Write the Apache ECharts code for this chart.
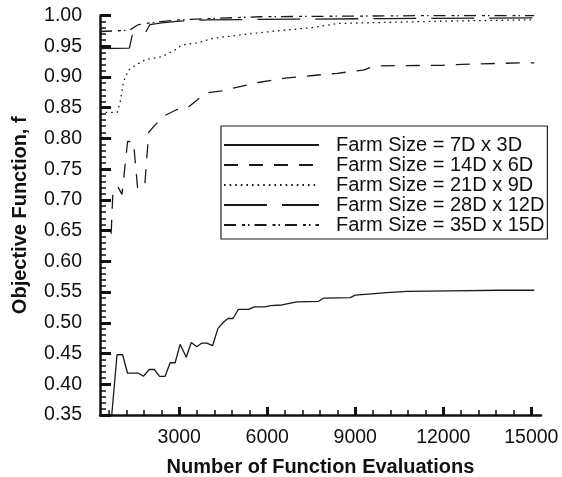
<!DOCTYPE html>
<html><head><meta charset="utf-8">
<script src="https://cdn.jsdelivr.net/npm/echarts@6/dist/echarts.min.js"></script>
<style>html,body{margin:0;padding:0;background:#fff}#c{width:562px;height:477px}</style>
</head><body><div id="c"></div>
<script>
const seriesNames = ['Farm Size = 7D x 3D', 'Farm Size = 14D x 6D', 'Farm Size = 21D x 9D', 'Farm Size = 28D x 12D', 'Farm Size = 35D x 15D'];

const x7 = [700, 880, 1070, 1240, 1610, 1780, 1980, 2150, 2330, 2520, 2690, 2860, 3030, 3240, 3410, 3600, 3770, 3940, 4140, 4320, 4510, 4660, 4830, 5020, 5360, 5560, 5930, 6100, 6500, 7010, 7750, 7910, 8830, 9000, 10080, 10760, 12240, 13940, 15100];
const f7 = [0.35, 0.448, 0.448, 0.418, 0.418, 0.413, 0.424, 0.424, 0.413, 0.413, 0.435, 0.435, 0.465, 0.444, 0.468, 0.461, 0.467, 0.467, 0.463, 0.491, 0.501, 0.507, 0.507, 0.522, 0.522, 0.526, 0.526, 0.528, 0.529, 0.534, 0.535, 0.540, 0.541, 0.545, 0.549, 0.551, 0.552, 0.553, 0.553];

const x14 = [680, 740, 900, 1050, 1240, 1440, 1580, 1820, 1960, 2180, 2460, 2920, 3260, 3600, 3890, 4400, 4840, 5690, 6610, 7470, 8380, 9270, 9680, 12000, 12920, 14730, 15100];
const f14 = [0.645, 0.713, 0.722, 0.709, 0.795, 0.795, 0.72, 0.72, 0.81, 0.822, 0.836, 0.847, 0.849, 0.862, 0.874, 0.877, 0.882, 0.891, 0.898, 0.902, 0.906, 0.911, 0.918, 0.919, 0.921, 0.923, 0.923];

const x21 = [300, 890, 990, 1100, 1270, 1500, 1840, 2410, 2860, 3090, 3550, 4170, 5190, 6330, 7470, 8150, 8380, 10190, 12240, 15100];
const f21 = [0.8425, 0.8425, 0.86, 0.892, 0.911, 0.919, 0.928, 0.933, 0.944, 0.952, 0.955, 0.963, 0.969, 0.975, 0.980, 0.985, 0.987, 0.989, 0.991, 0.993];

const x28 = [300, 1300, 1400, 1800, 2000, 2400, 3000, 4000, 7000, 10000, 15100];
const f28 = [0.946, 0.947, 0.968, 0.968, 0.985, 0.988, 0.991, 0.993, 0.994, 0.995, 0.996];

const x35 = [300, 1300, 1600, 1850, 2350, 3030, 4060, 5760, 8830, 12240, 15100];
const f35 = [0.974, 0.976, 0.985, 0.987, 0.990, 0.993, 0.995, 0.998, 0.999, 1.0, 1.0];

const xMajorTicks = [3000, 6000, 9000, 12000, 15000];
const xMinorTicks = [600, 1200, 1800, 2400, 3600, 4200, 4800, 5400, 6600, 7200, 7800, 8400, 9600, 10200, 10800, 11400, 12600, 13200, 13800, 14400];

const zip = (xs, ys) => xs.map((x, i) => [x, ys[i]]);
const dashes = ['solid', [14, 11], [1.6, 4], [43, 15], [12, 6, 3, 3, 1.5, 5]];
const dataSets = [zip(x7, f7), zip(x14, f14), zip(x21, f21), zip(x28, f28), zip(x35, f35)];

const chart = echarts.init(document.getElementById('c'), null, {renderer: 'canvas'});
const font = 'Liberation Sans, Arial, sans-serif';
chart.setOption({
  animation: false,
  backgroundColor: '#fff',
  textStyle: {fontFamily: font},
  grid: {left: 100, right: 21, top: 15.5, bottom: 62, containLabel: false, outerBoundsMode: 'none'},
  legend: {
    orient: 'vertical',
    left: 221, top: 126,
    width: 330,
    backgroundColor: '#fff',
    borderColor: '#222', borderWidth: 1.2,
    padding: [9, 3, 4, 2],
    itemWidth: 95, itemHeight: 14, itemGap: 0,
    itemStyle: {opacity: 0, color: 'transparent', borderWidth: 0},
    textStyle: {fontSize: 20, color: '#111', fontFamily: font, lineHeight: 19.5, padding: [0, 0, 0, 12]},
    data: seriesNames
  },
  xAxis: [{
    type: 'value', min: 300, max: 15330,
    name: 'Number of Function Evaluations', nameLocation: 'middle', nameGap: 42,
    nameTextStyle: {fontSize: 20, fontWeight: 'bold', color: '#111', fontFamily: font},
    axisLine: {show: true, lineStyle: {color: '#111', width: 2.5}},
    axisTick: {show: true, inside: true, length: 8, lineStyle: {color: '#111', width: 3}, customValues: xMajorTicks},
    axisLabel: {fontSize: 19.5, color: '#111', margin: 13, customValues: xMajorTicks, fontFamily: font, formatter: v => String(v)},
    splitLine: {show: false}
  }, {
    type: 'value', min: 300, max: 15330, position: 'bottom',
    axisLine: {show: false},
    axisTick: {show: true, inside: true, length: 5, lineStyle: {color: '#111', width: 1.5}, customValues: xMinorTicks},
    axisLabel: {show: false},
    splitLine: {show: false}
  }],
  yAxis: {
    type: 'value', min: 0.35, max: 1.0, interval: 0.05,
    name: 'Objective Function, f', nameLocation: 'middle', nameGap: 70,
    nameTextStyle: {fontSize: 20, fontWeight: 'bold', color: '#111', fontFamily: font},
    axisLine: {show: true, lineStyle: {color: '#111', width: 2.5}},
    axisTick: {show: true, inside: true, length: 11, lineStyle: {color: '#111', width: 3}},
    minorTick: {show: true, splitNumber: 5, length: 6, lineStyle: {color: '#111', width: 1.5}},
    axisLabel: {fontSize: 19.5, color: '#111', margin: 18, formatter: v => v.toFixed(2), fontFamily: font},
    splitLine: {show: false}
  },
  series: seriesNames.map((name, i) => ({
    name, type: 'line', xAxisIndex: 0, symbol: 'none', clip: true,
    data: dataSets[i],
    lineStyle: {color: '#1a1a1a', width: 1.3, type: dashes[i]},
    itemStyle: {color: '#1a1a1a'}
  }))
});
</script></body></html>
